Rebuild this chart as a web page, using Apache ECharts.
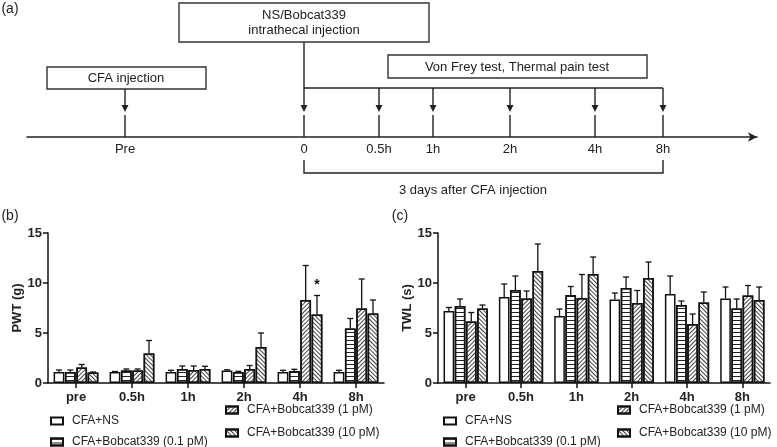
<!DOCTYPE html>
<html>
<head>
<meta charset="utf-8">
<script src="https://cdn.jsdelivr.net/npm/echarts@6/dist/echarts.min.js"></script>
<style>
html, body { margin: 0; padding: 0; background: #fff; }
#chart { width: 777px; height: 447px; }
</style>
</head>
<body>
<div id="chart"></div>
<script>
// timeline (a)
const timeLabels = ['Pre', '0', '0.5h', '1h', '2h', '4h', '8h'];
const timeValues = [98, 277, 352, 406, 483, 568, 636];

// bar charts (b) and (c)
const categories = ['pre', '0.5h', '1h', '2h', '4h', '8h'];
const groups = ['CFA+NS', 'CFA+Bobcat339 (0.1 pM)', 'CFA+Bobcat339 (1 pM)', 'CFA+Bobcat339 (10 pM)'];

const pwtNS = [1.1, 1.1, 1.1, 1.25, 1.1, 1.1];
const pwtNSErr = [0.2, 0.05, 0.17, 0.07, 0.17, 0.17];
const pwt01 = [1.1, 1.25, 1.4, 1.1, 1.2, 5.45];
const pwt01Err = [0.2, 0.15, 0.3, 0.07, 0.17, 1.0];
const pwt1 = [1.55, 1.25, 1.3, 1.4, 8.3, 7.45];
const pwt1Err = [0.3, 0.15, 0.4, 0.35, 3.45, 2.95];
const pwt10 = [1.05, 2.95, 1.4, 3.6, 6.85, 6.95];
const pwt10Err = [0.05, 1.3, 0.27, 1.4, 1.9, 1.35];
const pwtStars = ['', '', '', '', '*', ''];

const twlNS = [7.2, 8.6, 6.7, 8.35, 8.9, 8.45];
const twlNSErr = [0.35, 1.3, 0.7, 0.65, 1.8, 1.15];
const twl01 = [7.7, 9.3, 8.8, 9.5, 7.8, 7.45];
const twl01Err = [0.7, 1.4, 0.85, 1.1, 0.4, 0.95];
const twl1 = [6.15, 8.45, 8.5, 8.0, 5.9, 8.75];
const twl1Err = [0.9, 0.75, 2.35, 1.25, 1.0, 1.0];
const twl10 = [7.45, 11.2, 10.9, 10.5, 8.05, 8.3];
const twl10Err = [0.35, 2.7, 1.7, 1.6, 1.05, 1.3];

const yTicks = [0, 5, 10, 15];

const FONT = '"Liberation Sans", Arial, sans-serif';
const INK = '#222';

const decals = [
    null,
    { symbol: 'rect', symbolSize: 1, dashArrayX: [1, 0], dashArrayY: [1, 3], color: '#222' },
    { symbol: 'rect', symbolSize: 1, dashArrayX: [1, 0], dashArrayY: [1, 2], rotation: -Math.PI / 4, color: '#444' },
    { symbol: 'rect', symbolSize: 1, dashArrayX: [1, 0], dashArrayY: [1, 2], rotation: Math.PI / 4, color: '#444' }
];

const pwtMeans = [pwtNS, pwt01, pwt1, pwt10];
const pwtErrs = [pwtNSErr, pwt01Err, pwt1Err, pwt10Err];
const twlMeans = [twlNS, twl01, twl1, twl10];
const twlErrs = [twlNSErr, twl01Err, twl1Err, twl10Err];

function barSeries(means, axis) {
    return means.map(function (vals, g) {
        return {
            name: groups[g],
            type: 'bar',
            xAxisIndex: axis,
            yAxisIndex: axis,
            barCategoryGap: '20%',
            barGap: '5%',
            itemStyle: {
                color: '#fff',
                borderColor: '#111',
                borderWidth: 1.5,
                decal: decals[g] || undefined
            },
            emphasis: { disabled: true },
            data: vals
        };
    });
}

function errorSeries(means, errs, stars, axis) {
    const data = [];
    means.forEach(function (vals, g) {
        vals.forEach(function (v, c) {
            data.push([c, g, v, errs[g][c], (g === 3 && stars) ? stars[c] : '']);
        });
    });
    return {
        type: 'custom',
        xAxisIndex: axis,
        yAxisIndex: axis,
        z: 5,
        silent: true,
        data: data,
        renderItem: function (params, api) {
            const c = api.value(0), g = api.value(1), m = api.value(2), e = api.value(3);
            const star = api.value(4);
            const band = api.size([1, 0])[0];
            const groupW = band * 0.8;
            const w = groupW / (4 + 3 * 0.05);
            const cx = api.coord([c, 0])[0] - groupW / 2 + w / 2 + g * w * 1.05;
            const yTop = api.coord([c, m + e])[1];
            const yBase = api.coord([c, m])[1];
            const style = { stroke: '#111', lineWidth: 1.3 };
            const children = [
                { type: 'line', shape: { x1: cx, y1: yBase, x2: cx, y2: yTop }, style: style },
                { type: 'line', shape: { x1: cx - 3, y1: yTop, x2: cx + 3, y2: yTop }, style: style }
            ];
            if (star) {
                children.push({
                    type: 'text',
                    style: { text: star, x: cx, y: yTop - 3, align: 'center', verticalAlign: 'bottom',
                        font: 'bold 14px ' + FONT, fill: '#111' }
                });
            }
            return { type: 'group', children: children };
        }
    };
}

// one legend per entry, so the staggered two-column layout can be placed freely
function legendItem(name, left, top) {
    return {
        data: [name],
        left: left,
        top: top,
        padding: 0,
        itemWidth: 12,
        itemHeight: 7,
        icon: 'rect',
        selectedMode: false,
        textStyle: { fontFamily: FONT, fontSize: 12, color: INK, padding: [0, 0, 0, 4] }
    };
}

function yAxisFor(axis, name) {
    return {
        gridIndex: axis,
        type: 'value',
        min: 0,
        max: 15,
        interval: 5,
        name: name,
        nameLocation: 'middle',
        nameGap: 24,
        nameTextStyle: { fontFamily: FONT, fontSize: 13, fontWeight: 'bold', color: INK },
        axisLine: { show: true, lineStyle: { color: '#111', width: 1.5 } },
        axisTick: { show: true, length: 5, lineStyle: { color: '#111', width: 1.5 } },
        axisLabel: { fontFamily: FONT, fontSize: 13, fontWeight: 'bold', color: INK, margin: 6,
            customValues: yTicks },
        splitLine: { show: false }
    };
}

function xAxisFor(axis) {
    return {
        gridIndex: axis,
        type: 'category',
        data: categories,
        axisLine: { show: true, lineStyle: { color: '#111', width: 1.5 } },
        axisTick: { show: true, alignWithLabel: true, length: 5, lineStyle: { color: '#111', width: 1.5 } },
        axisLabel: { fontFamily: FONT, fontSize: 13, fontWeight: 'bold', color: INK, margin: 8 }
    };
}

const chart = echarts.init(document.getElementById('chart'));

const boxStyle = { fill: '#fff', stroke: '#333', lineWidth: 1.4 };
const txt = function (text, x, y, size, extra) {
    return Object.assign({
        type: 'text',
        style: { text: text, x: x, y: y, align: 'center', verticalAlign: 'middle',
            font: size + 'px ' + FONT, fill: INK }
    }, extra || {});
};

chart.setOption({
    animation: false,
    backgroundColor: '#fff',
    grid: [
        { left: 48, top: 233, width: 336, height: 150 },
        { left: 438, top: 233, width: 332, height: 150 },
        { left: 27, top: 20, width: 730, height: 117 }
    ],
    xAxis: [
        xAxisFor(0),
        xAxisFor(1),
        {
            gridIndex: 2,
            type: 'value',
            min: 0,
            max: 730,
            axisLine: { show: true, symbol: ['none', 'arrow'], symbolSize: [7, 9],
                lineStyle: { color: INK, width: 1.5 } },
            axisTick: { show: false },
            splitLine: { show: false },
            axisLabel: {
                customValues: timeValues,
                margin: 6,
                fontFamily: FONT, fontSize: 13, color: INK,
                formatter: function (v) { return timeLabels[timeValues.indexOf(v)]; }
            }
        }
    ],
    yAxis: [
        yAxisFor(0, 'PWT (g)'),
        yAxisFor(1, 'TWL (s)'),
        { gridIndex: 2, type: 'value', min: 0, max: 1, show: false }
    ],
    legend: [
        legendItem(groups[0], 50, 415),
        legendItem(groups[1], 50, 436),
        legendItem(groups[2], 225, 404),
        legendItem(groups[3], 225, 427),
        legendItem(groups[0], 443, 415),
        legendItem(groups[1], 443, 436),
        legendItem(groups[2], 617, 404),
        legendItem(groups[3], 617, 427)
    ],
    series: [].concat(
        barSeries(pwtMeans, 0),
        barSeries(twlMeans, 1),
        [errorSeries(pwtMeans, pwtErrs, pwtStars, 0),
         errorSeries(twlMeans, twlErrs, null, 1),
        {
            // arrows and ticks on the timeline
            type: 'custom',
            xAxisIndex: 2,
            yAxisIndex: 2,
            silent: true,
            data: timeValues.map(function (v, i) { return [v, i]; }),
            renderItem: function (params, api) {
                const p = api.coord([api.value(0), 0]);
                const x = p[0], y0 = p[1];
                const i = api.value(1);
                const top = i === 0 ? y0 - 48 : (i === 1 ? y0 - 95 : y0 - 49);
                const st = { stroke: INK, lineWidth: 1.4 };
                return {
                    type: 'group',
                    children: [
                        { type: 'line', shape: { x1: x, y1: top, x2: x, y2: y0 - 31 }, style: st },
                        { type: 'polygon', shape: { points: [[x - 3.5, y0 - 32], [x + 3.5, y0 - 32], [x, y0 - 25]] },
                            style: { fill: INK } },
                        { type: 'line', shape: { x1: x, y1: y0 - 22, x2: x, y2: y0 }, style: st }
                    ]
                };
            }
        },
        {
            // brackets above and below the test window
            type: 'custom',
            xAxisIndex: 2,
            yAxisIndex: 2,
            silent: true,
            data: [[timeValues[1], timeValues[6]]],
            renderItem: function (params, api) {
                const a = api.coord([api.value(0), 0]);
                const b = api.coord([api.value(1), 0]);
                const y0 = a[1];
                const st = { stroke: INK, lineWidth: 1.4, fill: 'none' };
                return {
                    type: 'group',
                    children: [
                        { type: 'line', shape: { x1: a[0], y1: y0 - 49, x2: b[0], y2: y0 - 49 }, style: st },
                        { type: 'polyline', shape: { points: [[a[0], y0 + 23], [a[0], y0 + 36], [b[0], y0 + 36], [b[0], y0 + 23]] },
                            style: st }
                    ]
                };
            }
        }]
    ),
    graphic: [
        txt('(a)', 10, 9, 14),
        txt('(b)', 10, 216, 14),
        txt('(c)', 400, 216, 14),
        { type: 'rect', shape: { x: 179, y: 3, width: 250, height: 39 }, style: boxStyle, z: 10 },
        txt('NS/Bobcat339', 304, 15, 13, { z: 11 }),
        txt('intrathecal injection', 304, 30, 13, { z: 11 }),
        { type: 'rect', shape: { x: 47, y: 67, width: 159, height: 22 }, style: boxStyle, z: 10 },
        txt('CFA injection', 126, 78, 13, { z: 11 }),
        { type: 'rect', shape: { x: 388, y: 55, width: 259, height: 23 }, style: boxStyle, z: 10 },
        txt('Von Frey test, Thermal pain test', 517, 67, 13, { z: 11 }),
        txt('3 days after CFA injection', 473, 190, 13)
    ]
});

window.addEventListener('resize', function () {
    chart.resize();
});
</script>
</body>
</html>
